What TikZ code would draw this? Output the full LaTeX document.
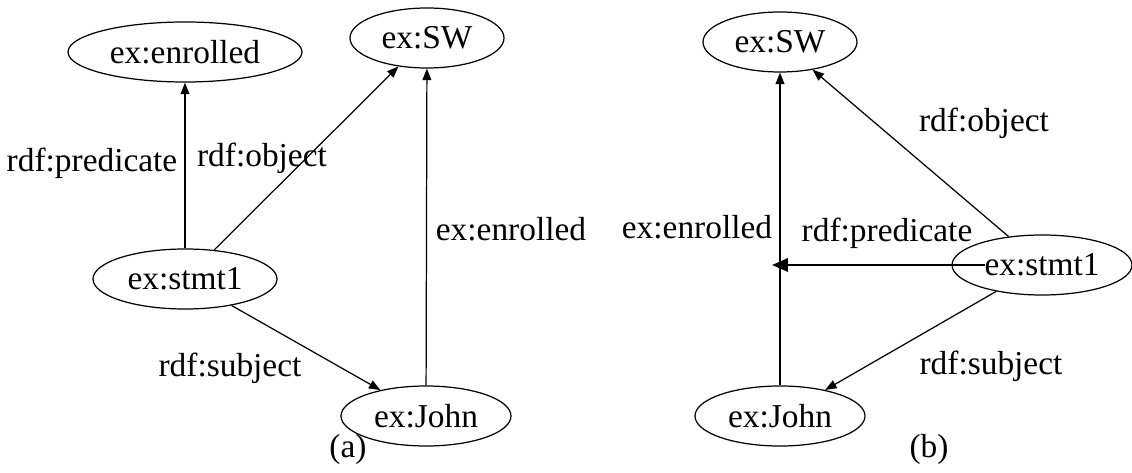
\documentclass[tikz,border=0pt]{standalone}
\usepackage{fontspec}
\setmainfont{Liberation Serif}
\usetikzlibrary{shapes.geometric,arrows.meta}
\begin{document}
\begin{tikzpicture}[font=\fontsize{19}{22}\selectfont,
  res/.style={ellipse, draw, line width=0.7pt, inner sep=0pt, minimum height=1.2cm},
  lbl/.style={inner sep=0pt},
  edge/.style={line width=0.7pt, -{Triangle[length=6.5pt,width=5pt]}},
  bigedge/.style={line width=1.3pt, -{Triangle[length=9pt,width=7.5pt]}}]
\useasboundingbox (0,0) rectangle (22.64,9.44);
% (a)
\node[res, minimum width=4.68cm] (enr) at (3.70,8.40){ex:enrolled};
\node[res, minimum width=3.08cm] (swA) at (8.54,8.68){ex:SW};
\node[res, minimum width=3.68cm] (stA) at (3.70,3.86){ex:stmt1};
\node[res, minimum width=3.40cm] (jnA) at (8.52,1.12){ex:John};
\draw[edge] (stA) -- (enr);
\draw[edge] (stA) -- (swA);
\draw[edge] (stA) -- (jnA);
\draw[edge] (jnA) -- (swA);
\node[lbl] (predA) at (1.84,6.18){rdf:predicate};
\node[lbl] (objA) at (5.24,6.28){rdf:object};
\node[lbl] (subjA) at (4.60,2.08){rdf:subject};
\node[lbl] (enrA) at (10.22,4.86){ex:enrolled};
\node[lbl] (capA) at (6.96,0.46){(a)};
% (b)
\node[res, minimum width=3.08cm] (swB) at (15.60,8.60){ex:SW};
\node[res, minimum width=3.40cm] (jnB) at (15.60,1.12){ex:John};
\node[res, minimum width=3.60cm] (stB) at (20.84,4.14){ex:stmt1};
\coordinate (hit) at (15.44,4.14);
\draw[edge] (jnB) -- (swB);
\draw[edge] (stB) -- (swB);
\draw[edge] (stB) -- (jnB);
\draw[bigedge] (stB.center -| stB.text) -- (hit);
\node[lbl] (enrB) at (13.94,4.90){ex:enrolled};
\node[lbl] (predB) at (17.74,4.78){rdf:predicate};
\node[lbl] (objB) at (19.68,6.98){rdf:object};
\node[lbl] (subjB) at (19.82,2.12){rdf:subject};
\node[lbl] (capB) at (18.58,0.46){(b)};
\end{tikzpicture}
\end{document}
